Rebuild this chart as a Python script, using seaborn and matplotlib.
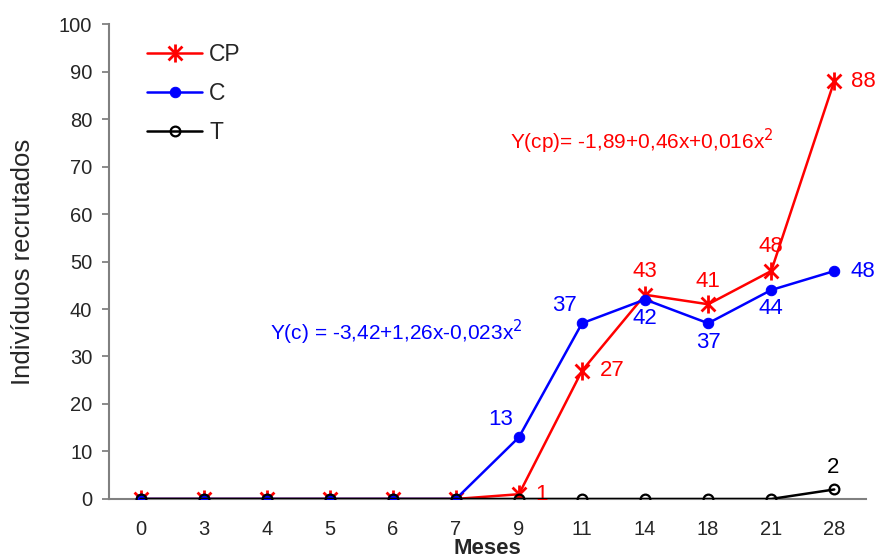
import matplotlib
matplotlib.use("Agg")
import matplotlib.pyplot as plt
from matplotlib.path import Path
import pandas as pd
import seaborn as sns

meses = ["0", "3", "4", "5", "6", "7", "9", "11", "14", "18", "21", "28"]
cp_vals = [0, 0, 0, 0, 0, 0, 1, 27, 43, 41, 48, 88]
c_vals = [0, 0, 0, 0, 0, 0, 13, 37, 42, 37, 44, 48]
t_vals = [0, 0, 0, 0, 0, 0, 0, 0, 0, 0, 0, 2]

sns.set_style("white")
plt.rcParams["font.family"] = ["Liberation Sans", "DejaVu Sans"]

df = pd.DataFrame({"Meses": meses, "CP": cp_vals, "C": c_vals, "T": t_vals})

# asterisk marker: x with a vertical bar, like the spreadsheet one
star = Path([(-1, -1), (1, 1), (-1, 1), (1, -1), (0, -1.3), (0, 1.3)],
            [Path.MOVETO, Path.LINETO, Path.MOVETO, Path.LINETO, Path.MOVETO, Path.LINETO])

fig = plt.figure(figsize=(8.79, 5.6), dpi=100)
ax = fig.add_axes([0.124, 0.109, 0.861, 0.848])

sns.lineplot(data=df, x="Meses", y="CP", ax=ax, color="red", marker=star, markersize=13,
             markeredgecolor="red", markeredgewidth=2, linewidth=1.8, label="CP", sort=False, zorder=2)
sns.lineplot(data=df, x="Meses", y="C", ax=ax, color="blue", marker="o", markersize=7.5,
             markeredgecolor="blue", linewidth=1.8, label="C", sort=False, zorder=3)
sns.lineplot(data=df, x="Meses", y="T", ax=ax, color="black", marker="o", markersize=7,
             markerfacecolor="none", markeredgecolor="black", markeredgewidth=1.6,
             linewidth=1.8, label="T", sort=False, zorder=4)

# value labels
fs = 16
red_pos = {6: (12, 0, "left", "center"), 7: (13, 0, "left", "center"), 8: (0, 9, "center", "bottom"),
           9: (0, 9, "center", "bottom"), 10: (0, 10, "center", "bottom"), 11: (12, 0, "left", "center")}
for i, (dx, dy, ha, va) in red_pos.items():
    ax.annotate(str(cp_vals[i]), (i, cp_vals[i]), xytext=(dx, dy), textcoords="offset points",
                ha=ha, va=va, color="red", fontsize=fs)
blue_pos = {6: (-4, 5, "right", "bottom"), 7: (-4, 5, "right", "bottom"), 8: (0, -6, "center", "top"),
            9: (0, -6, "center", "top"), 10: (0, -6, "center", "top"), 11: (12, 0, "left", "center")}
for i, (dx, dy, ha, va) in blue_pos.items():
    ax.annotate(str(c_vals[i]), (i, c_vals[i]), xytext=(dx, dy), textcoords="offset points",
                ha=ha, va=va, color="blue", fontsize=fs)
ax.annotate(str(t_vals[11]), (11, t_vals[11]), xytext=(-1, 8), textcoords="offset points",
            ha="center", va="bottom", color="black", fontsize=fs)

ax.text(2.06, 35, "Y(c) = -3,42+1,26x-0,023x$^2$", color="blue", fontsize=15, va="center")
ax.text(5.86, 75.2, "Y(cp)= -1,89+0,46x+0,016x$^2$", color="red", fontsize=15, va="center")

ax.set_xlim(-0.5, 11.5)
ax.set_ylim(0, 100)
ax.set_yticks(range(0, 101, 10))
ax.tick_params(axis="y", left=True, length=5, width=1.2, color="#777777", labelsize=14.5, pad=7)
ax.tick_params(axis="x", bottom=False, labelsize=14.5, pad=12)
for side in ["top", "right"]:
    ax.spines[side].set_visible(False)
for side in ["left", "bottom"]:
    ax.spines[side].set_color("#808080")
    ax.spines[side].set_linewidth(1.5)

ax.set_ylabel("Indivíduos recrutados", fontsize=18.5, labelpad=17)
ax.set_xlabel("Meses", fontsize=16, fontweight="bold", labelpad=-1)

ax.legend(loc="upper left", bbox_to_anchor=(0.0235, 1.003), frameon=False, fontsize=16.5,
          handlelength=2.4, labelspacing=0.7, handletextpad=0.3)

fig.savefig("out.png", dpi=100)
